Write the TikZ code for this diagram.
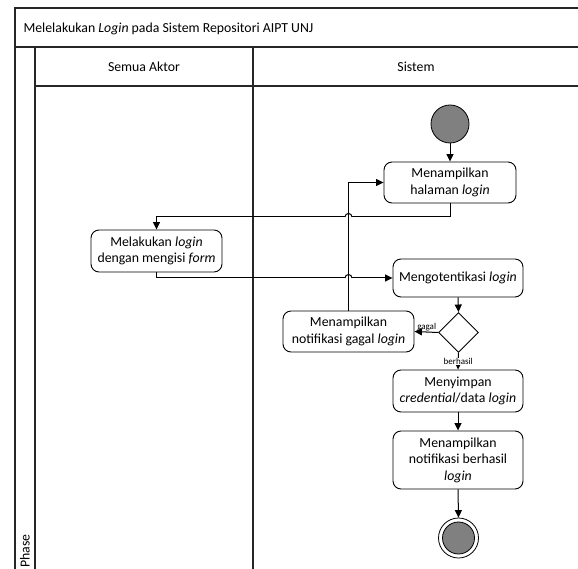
\documentclass[tikz,border=0pt]{standalone}
\usepackage{fontspec}
\setmainfont{Carlito}
\usetikzlibrary{arrows.meta,calc,shapes.geometric}

\tikzset{
  lanefont/.style={font=\fontsize{13.8}{16.5}\selectfont},
  frame/.style={line width=1.5pt, draw=black!85},
  actbox/.style={draw, line width=0.9pt, rounded corners=8pt, align=center,
    inner sep=0pt, lanefont},
  flow/.style={line width=1pt, -{Triangle[length=7.5pt,width=7pt]}},
  plain/.style={line width=1pt},
  decision/.style={draw, line width=0.9pt, diamond, inner sep=0pt,
    minimum width=40pt, minimum height=40pt},
  guard/.style={font=\fontsize{9}{10}\selectfont, inner sep=1pt},
  startdot/.style={circle, draw, line width=0.8pt, fill=black!50,
    minimum size=38pt, inner sep=0pt},
}

\begin{document}
\begin{tikzpicture}[x=1pt,y=-1pt]
\useasboundingbox (0,0) rectangle (578,569);
\begin{scope}
\clip (0,0) rectangle (578,569);

% swimlane frame
\draw[frame] (15,600) -- (15,8) -- (600,8);
\draw[frame] (15,47) -- (600,47);
\draw[frame] (35,86) -- (600,86);
\draw[frame] (35,47) -- (35,600);
\draw[frame] (253,47) -- (253,600);

\node[lanefont, anchor=west] (title) at (20,29)
  {Melelakukan \textit{Login} pada Sistem Repositori AIPT UNJ};
\node[lanefont] (laneA) at (144,67) {Semua Aktor};
\node[lanefont] (laneB) at (416,67) {Sistem};
\node[lanefont, rotate=90, anchor=west, inner sep=0pt] (phase) at (25,568) {Phase};

% activities
\node[startdot] (start) at (450,124) {};
\node[actbox, minimum width=132pt, minimum height=41pt] (halaman) at (450,182.5)
  {Menampilkan\\halaman \textit{login}};
\node[actbox, minimum width=131pt, minimum height=42pt] (isi) at (156.5,251)
  {Melakukan \textit{login}\\dengan mengisi \textit{form}};
\node[actbox, minimum width=130pt, minimum height=38pt] (otentik) at (458,278)
  {Mengotentikasi \textit{login}};
\node[decision] (cek) at (458.5,332.5) {};
\node[actbox, minimum width=131pt, minimum height=41pt] (gagal) at (348.5,331.5)
  {Menampilkan\\notifikasi gagal \textit{login}};
\node[actbox, minimum width=130pt, minimum height=42pt] (simpan) at (458,391)
  {Menyimpan\\\textit{credential}/data \textit{login}};
\node[actbox, minimum width=130pt, minimum height=58pt] (sukses) at (458,460)
  {Menampilkan\\notifikasi berhasil\\\textit{login}};
\node[circle, draw, line width=0.8pt, fill=white, minimum size=40pt, inner sep=0pt]
  (final) at (458.5,538) {};
\node[circle, draw, line width=0.8pt, fill=black!50, minimum size=32pt, inner sep=0pt]
  (finaldot) at (final.center) {};

% flows
\draw[flow] (start) -- (halaman);
\coordinate (turn) at ($(halaman.south)+(0,13.5)$);
\draw[flow] (halaman.south) -- (turn) -| (isi.north);
\draw[flow] (isi.south) |- (otentik.west);
\draw[flow] (otentik.south) -- (cek.north);
\draw[flow] (cek.west) -- (gagal.east)
  node[guard, pos=0.02, anchor=south east] (glabel) {gagal};
\draw[flow] (cek.south) -- (simpan.north)
  node[guard, midway, fill=white, inner sep=0.5pt] (blabel) {berhasil};
\draw[flow] (simpan.south) -- (sukses.north);
\draw[flow] (sukses.south) -- (final.north);

% line hops where the return flow crosses
\coordinate (hopA) at (gagal.north |- turn);
\coordinate (hopB) at (gagal.north |- otentik.west);
\foreach \h in {hopA,hopB}{
  \fill[white] ($(\h)+(-3.5,-1.2)$) rectangle ($(\h)+(3.5,1.2)$);
  \draw[plain] ($(\h)+(-3.5,0)$) arc[start angle=180, end angle=360, radius=3.5];
}
\draw[flow] (gagal.north) |- (halaman.west);
\end{scope}
\end{tikzpicture}
\end{document}
